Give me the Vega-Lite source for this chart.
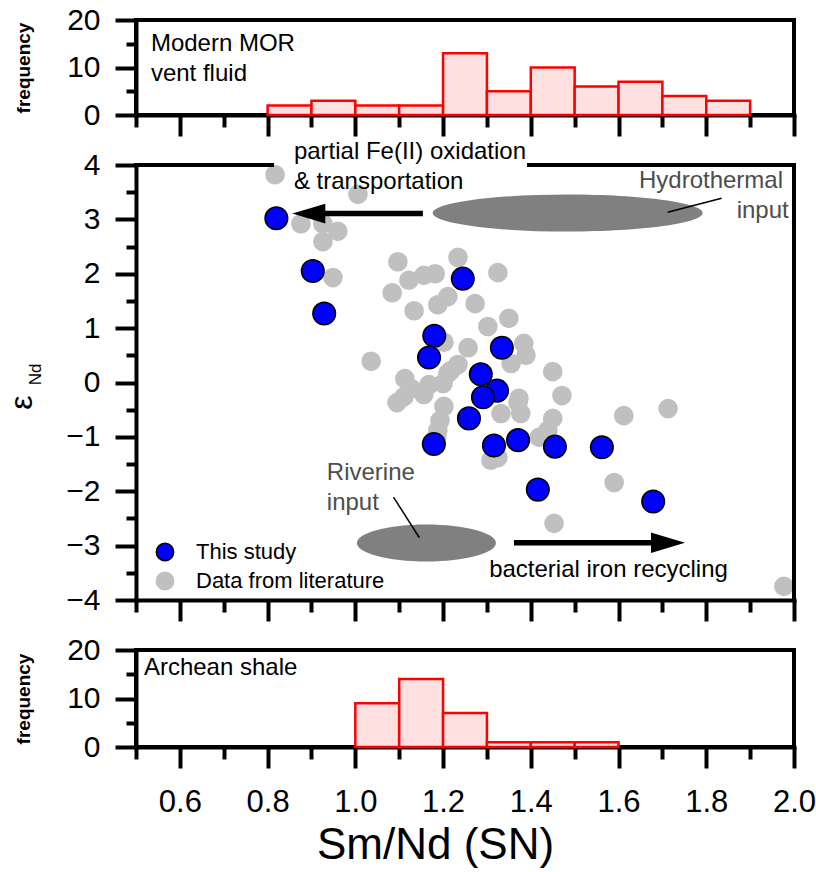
{
  "$schema": "https://vega.github.io/schema/vega-lite/v6.json",
  "autosize": {"type": "pad"},
  "padding": {"left": 5, "top": 3, "right": 5, "bottom": 0},
  "background": "white",
  "spacing": 50,
  "bounds": "flush",
  "resolve": {
    "scale": {"fill": "independent", "stroke": "independent"},
    "legend": {"fill": "independent", "stroke": "independent"}
  },
  "datasets": {
    "mor": [
      {"lo": 0.8, "hi": 0.9, "n": 2}, {"lo": 0.9, "hi": 1.0, "n": 3}, {"lo": 1.0, "hi": 1.1, "n": 2},
      {"lo": 1.1, "hi": 1.2, "n": 2}, {"lo": 1.2, "hi": 1.3, "n": 13}, {"lo": 1.3, "hi": 1.4, "n": 5},
      {"lo": 1.4, "hi": 1.5, "n": 10}, {"lo": 1.5, "hi": 1.6, "n": 6}, {"lo": 1.6, "hi": 1.7, "n": 7},
      {"lo": 1.7, "hi": 1.8, "n": 4}, {"lo": 1.8, "hi": 1.9, "n": 3}
    ],
    "shale": [
      {"lo": 1.0, "hi": 1.1, "n": 9}, {"lo": 1.1, "hi": 1.2, "n": 14}, {"lo": 1.2, "hi": 1.3, "n": 7},
      {"lo": 1.3, "hi": 1.4, "n": 1}, {"lo": 1.4, "hi": 1.5, "n": 1}, {"lo": 1.5, "hi": 1.6, "n": 1}
    ],
    "pts": [
      {"x": 0.817, "y": 3.82, "src": "Data from literature"},
      {"x": 1.006, "y": 3.46, "src": "Data from literature"},
      {"x": 0.876, "y": 2.92, "src": "Data from literature"},
      {"x": 0.926, "y": 2.92, "src": "Data from literature"},
      {"x": 0.960, "y": 2.78, "src": "Data from literature"},
      {"x": 0.926, "y": 2.59, "src": "Data from literature"},
      {"x": 0.949, "y": 1.93, "src": "Data from literature"},
      {"x": 1.097, "y": 2.22, "src": "Data from literature"},
      {"x": 1.084, "y": 1.65, "src": "Data from literature"},
      {"x": 1.122, "y": 1.88, "src": "Data from literature"},
      {"x": 1.156, "y": 1.97, "src": "Data from literature"},
      {"x": 1.182, "y": 2.00, "src": "Data from literature"},
      {"x": 1.234, "y": 2.30, "src": "Data from literature"},
      {"x": 1.325, "y": 2.02, "src": "Data from literature"},
      {"x": 1.211, "y": 1.58, "src": "Data from literature"},
      {"x": 1.188, "y": 1.43, "src": "Data from literature"},
      {"x": 1.134, "y": 1.32, "src": "Data from literature"},
      {"x": 1.273, "y": 1.45, "src": "Data from literature"},
      {"x": 1.302, "y": 1.03, "src": "Data from literature"},
      {"x": 1.350, "y": 1.18, "src": "Data from literature"},
      {"x": 1.257, "y": 0.64, "src": "Data from literature"},
      {"x": 1.202, "y": 0.74, "src": "Data from literature"},
      {"x": 1.036, "y": 0.39, "src": "Data from literature"},
      {"x": 1.113, "y": 0.07, "src": "Data from literature"},
      {"x": 1.127, "y": -0.11, "src": "Data from literature"},
      {"x": 1.211, "y": 0.17, "src": "Data from literature"},
      {"x": 1.234, "y": 0.33, "src": "Data from literature"},
      {"x": 1.095, "y": -0.37, "src": "Data from literature"},
      {"x": 1.156, "y": -0.22, "src": "Data from literature"},
      {"x": 1.200, "y": -0.02, "src": "Data from literature"},
      {"x": 1.168, "y": -0.04, "src": "Data from literature"},
      {"x": 1.218, "y": 0.22, "src": "Data from literature"},
      {"x": 1.202, "y": -0.44, "src": "Data from literature"},
      {"x": 1.193, "y": -0.70, "src": "Data from literature"},
      {"x": 1.188, "y": -0.88, "src": "Data from literature"},
      {"x": 1.186, "y": -0.99, "src": "Data from literature"},
      {"x": 1.111, "y": -0.26, "src": "Data from literature"},
      {"x": 1.332, "y": -0.57, "src": "Data from literature"},
      {"x": 1.377, "y": -0.57, "src": "Data from literature"},
      {"x": 1.371, "y": -0.37, "src": "Data from literature"},
      {"x": 1.355, "y": 0.35, "src": "Data from literature"},
      {"x": 1.384, "y": 0.72, "src": "Data from literature"},
      {"x": 1.389, "y": 0.50, "src": "Data from literature"},
      {"x": 1.450, "y": 0.20, "src": "Data from literature"},
      {"x": 1.471, "y": -0.24, "src": "Data from literature"},
      {"x": 1.373, "y": -0.29, "src": "Data from literature"},
      {"x": 1.450, "y": -0.66, "src": "Data from literature"},
      {"x": 1.439, "y": -0.88, "src": "Data from literature"},
      {"x": 1.325, "y": -1.38, "src": "Data from literature"},
      {"x": 1.309, "y": -1.43, "src": "Data from literature"},
      {"x": 1.419, "y": -1.01, "src": "Data from literature"},
      {"x": 1.612, "y": -0.61, "src": "Data from literature"},
      {"x": 1.713, "y": -0.48, "src": "Data from literature"},
      {"x": 1.590, "y": -1.84, "src": "Data from literature"},
      {"x": 1.453, "y": -2.59, "src": "Data from literature"},
      {"x": 1.977, "y": -3.75, "src": "Data from literature"},
      {"x": 0.820, "y": 3.02, "src": "This study"},
      {"x": 0.903, "y": 2.05, "src": "This study"},
      {"x": 0.929, "y": 1.27, "src": "This study"},
      {"x": 1.245, "y": 1.91, "src": "This study"},
      {"x": 1.180, "y": 0.86, "src": "This study"},
      {"x": 1.168, "y": 0.46, "src": "This study"},
      {"x": 1.334, "y": 0.64, "src": "This study"},
      {"x": 1.286, "y": 0.15, "src": "This study"},
      {"x": 1.323, "y": -0.15, "src": "This study"},
      {"x": 1.291, "y": -0.27, "src": "This study"},
      {"x": 1.259, "y": -0.66, "src": "This study"},
      {"x": 1.179, "y": -1.13, "src": "This study"},
      {"x": 1.316, "y": -1.16, "src": "This study"},
      {"x": 1.371, "y": -1.06, "src": "This study"},
      {"x": 1.455, "y": -1.18, "src": "This study"},
      {"x": 1.562, "y": -1.19, "src": "This study"},
      {"x": 1.416, "y": -1.97, "src": "This study"},
      {"x": 1.679, "y": -2.19, "src": "This study"}
    ]
  },
  "vconcat": [
    {
      "width": 658,
      "height": 95,
      "view": {"stroke": "black", "strokeWidth": 4},
      "layer": [
        {
          "data": {"name": "mor"},
          "mark": {"type": "rect", "fill": "#ffe0e0", "stroke": "#ff0000", "strokeWidth": 2.5},
          "encoding": {
            "x": {"field": "lo", "type": "quantitative", "scale": {"domain": [0.5, 2.0], "nice": false, "zero": false},
              "axis": {"orient": "bottom", "values": [0.6, 0.8, 1.0, 1.2, 1.4, 1.6, 1.8, 2.0], "labels": false, "tickSize": 21, "title": null}},
            "x2": {"field": "hi"},
            "y": {"field": "n", "type": "quantitative", "scale": {"domain": [0, 20], "nice": false, "zero": true},
              "axis": {"orient": "left", "values": [0, 10, 20], "tickSize": 21, "labelFontSize": 30, "labelPadding": 15,
                "title": "frequency", "titleFontSize": 19, "titleFontWeight": "bold", "titleX": -113, "titleY": 47.5,
                "titleAngle": 270, "titleAlign": "center", "titleBaseline": "middle"}},
            "y2": {"datum": 0}
          }
        },
        {
          "data": {"name": "mor"},
          "mark": {"type": "point", "opacity": 0},
          "encoding": {
            "x": {"field": "lo", "type": "quantitative", "scale": {"domain": [0.5, 2.0], "nice": false, "zero": false},
              "axis": {"orient": "bottom", "values": [0.5, 0.7, 0.9, 1.1, 1.3, 1.5, 1.7, 1.9], "labels": false, "domain": false, "tickSize": 12, "title": null}},
            "y": {"field": "n", "type": "quantitative", "scale": {"domain": [0, 20], "nice": false, "zero": true},
              "axis": {"orient": "left", "values": [5, 15], "labels": false, "domain": false, "tickSize": 10, "title": null}}
          }
        },
        {
          "data": {"values": [{"x": 0.534, "y": 14.9, "t": "Modern MOR"}, {"x": 0.534, "y": 8.6, "t": "vent fluid"}]},
          "mark": {"type": "text", "align": "left", "baseline": "middle", "fontSize": 24, "color": "black"},
          "encoding": {
            "x": {"field": "x", "type": "quantitative", "scale": {"domain": [0.5, 2.0], "nice": false, "zero": false}, "axis": null},
            "y": {"field": "y", "type": "quantitative", "scale": {"domain": [0, 20], "nice": false, "zero": true}, "axis": null},
            "text": {"field": "t"}
          }
        }
      ],
      "resolve": {"axis": {"x": "independent", "y": "independent"}}
    },
    {
      "width": 658,
      "height": 435,
      "view": {"stroke": null},
      "layer": [
        {
          "data": {"values": [{"x": 1.484, "y": 3.116}]},
          "mark": {"type": "point", "filled": true, "opacity": 1, "color": "#808080", "strokeWidth": 0, "size": 72900,
            "shape": "M -1 0 C -1 -0.0757 -0.5523 -0.137 0 -0.137 C 0.5523 -0.137 1 -0.0757 1 0 C 1 0.0757 0.5523 0.137 0 0.137 C -0.5523 0.137 -1 0.0757 -1 0 Z"},
          "encoding": {
            "x": {"field": "x", "type": "quantitative", "scale": {"domain": [0.5, 2.0], "nice": false, "zero": false},
              "axis": {"orient": "bottom", "values": [0.6, 0.8, 1.0, 1.2, 1.4, 1.6, 1.8, 2.0], "labels": false, "tickSize": 21, "title": null}},
            "y": {"field": "y", "type": "quantitative", "scale": {"domain": [-4, 4], "nice": false, "zero": false},
              "axis": {"orient": "left", "values": [-4, -3, -2, -1, 0, 1, 2, 3, 4], "tickSize": 21, "labelFontSize": 30, "labelPadding": 15,
                "title": "ε", "titleFontSize": 32, "titleFontWeight": "normal", "titleX": -115, "titleY": 237,
                "titleAngle": 270, "titleAlign": "center", "titleBaseline": "middle"}}
          }
        },
        {
          "data": {"values": [{"x": 1.162, "y": -2.95}]},
          "mark": {"type": "point", "filled": true, "opacity": 1, "color": "#808080", "strokeWidth": 0, "size": 19321,
            "shape": "M -1 0 C -1 -0.1469 -0.5523 -0.266 0 -0.266 C 0.5523 -0.266 1 -0.1469 1 0 C 1 0.1469 0.5523 0.266 0 0.266 C -0.5523 0.266 -1 0.1469 -1 0 Z"},
          "encoding": {
            "x": {"field": "x", "type": "quantitative", "scale": {"domain": [0.5, 2.0], "nice": false, "zero": false},
              "axis": {"orient": "bottom", "values": [0.5, 0.7, 0.9, 1.1, 1.3, 1.5, 1.7, 1.9], "labels": false, "domain": false, "tickSize": 12, "title": null}},
            "y": {"field": "y", "type": "quantitative", "scale": {"domain": [-4, 4], "nice": false, "zero": false},
              "axis": {"orient": "left", "values": [-3.5, -2.5, -1.5, -0.5, 0.5, 1.5, 2.5, 3.5], "labels": false, "domain": false, "tickSize": 10, "title": null}}
          }
        },
        {
          "data": {"name": "pts"},
          "transform": [{"filter": "datum.src === 'Data from literature'"}],
          "mark": {"type": "point", "filled": true, "opacity": 1, "strokeWidth": 1.5, "size": 330},
          "encoding": {
            "x": {"field": "x", "type": "quantitative", "scale": {"domain": [0.5, 2.0], "nice": false, "zero": false}, "axis": null},
            "y": {"field": "y", "type": "quantitative", "scale": {"domain": [-4, 4], "nice": false, "zero": false}, "axis": null},
            "fill": {"field": "src", "type": "nominal",
              "scale": {"domain": ["This study", "Data from literature"], "range": ["#0000ff", "#c0c0c0"]},
              "legend": {"title": null, "orient": "none", "legendX": 18, "legendY": 376, "padding": 0, "labelFontSize": 22, "labelLimit": 400,
                "labelColor": "black", "symbolSize": 300, "symbolStrokeWidth": 1.5, "labelOffset": 20, "rowPadding": 5}},
            "stroke": {"field": "src", "type": "nominal",
              "scale": {"domain": ["This study", "Data from literature"], "range": ["#000000", "#c0c0c0"]},
              "legend": {"title": null, "orient": "none", "legendX": 18, "legendY": 376, "padding": 0, "labelFontSize": 22, "labelLimit": 400,
                "labelColor": "black", "symbolSize": 300, "symbolStrokeWidth": 1.5, "labelOffset": 20, "rowPadding": 5}}
          }
        },
        {
          "data": {"name": "pts"},
          "transform": [{"filter": "datum.src === 'This study'"}],
          "mark": {"type": "point", "filled": true, "opacity": 1, "strokeWidth": 1.5, "size": 510},
          "encoding": {
            "x": {"field": "x", "type": "quantitative", "scale": {"domain": [0.5, 2.0], "nice": false, "zero": false}, "axis": null},
            "y": {"field": "y", "type": "quantitative", "scale": {"domain": [-4, 4], "nice": false, "zero": false}, "axis": null},
            "fill": {"field": "src", "type": "nominal",
              "scale": {"domain": ["This study", "Data from literature"], "range": ["#0000ff", "#c0c0c0"]},
              "legend": {"title": null, "orient": "none", "legendX": 18, "legendY": 376, "padding": 0, "labelFontSize": 22, "labelLimit": 400,
                "labelColor": "black", "symbolSize": 300, "symbolStrokeWidth": 1.5, "labelOffset": 20, "rowPadding": 5}},
            "stroke": {"field": "src", "type": "nominal",
              "scale": {"domain": ["This study", "Data from literature"], "range": ["#000000", "#c0c0c0"]},
              "legend": {"title": null, "orient": "none", "legendX": 18, "legendY": 376, "padding": 0, "labelFontSize": 22, "labelLimit": 400,
                "labelColor": "black", "symbolSize": 300, "symbolStrokeWidth": 1.5, "labelOffset": 20, "rowPadding": 5}}
          }
        },
        {
          "data": {"values": [{"x": 1.154, "x2": 0.92, "y": 3.107}, {"x": 1.3616, "x2": 1.68, "y": -2.947}]},
          "mark": {"type": "rule", "color": "black", "strokeWidth": 5.5},
          "encoding": {
            "x": {"field": "x", "type": "quantitative", "scale": {"domain": [0.5, 2.0], "nice": false, "zero": false}, "axis": null},
            "x2": {"field": "x2"},
            "y": {"field": "y", "type": "quantitative", "scale": {"domain": [-4, 4], "nice": false, "zero": false}, "axis": null}
          }
        },
        {
          "data": {"values": [{"x": 0.894, "y": 3.107}]},
          "mark": {"type": "point", "filled": true, "opacity": 1, "color": "black", "strokeWidth": 0, "size": 1089,
            "shape": "M -1 0 L 1 -0.6 L 1 0.6 Z"},
          "encoding": {
            "x": {"field": "x", "type": "quantitative", "scale": {"domain": [0.5, 2.0], "nice": false, "zero": false}, "axis": null},
            "y": {"field": "y", "type": "quantitative", "scale": {"domain": [-4, 4], "nice": false, "zero": false}, "axis": null}
          }
        },
        {
          "data": {"values": [{"x": 1.7127, "y": -2.947}]},
          "mark": {"type": "point", "filled": true, "opacity": 1, "color": "black", "strokeWidth": 0, "size": 1156,
            "shape": "M 1 0 L -1 -0.6 L -1 0.6 Z"},
          "encoding": {
            "x": {"field": "x", "type": "quantitative", "scale": {"domain": [0.5, 2.0], "nice": false, "zero": false}, "axis": null},
            "y": {"field": "y", "type": "quantitative", "scale": {"domain": [-4, 4], "nice": false, "zero": false}, "axis": null}
          }
        },
        {
          "data": {"values": [{"x": 1.712, "y": 3.13, "x2": 1.835, "y2": 3.39}, {"x": 1.087, "y": -2.108, "x2": 1.146, "y2": -2.855}]},
          "mark": {"type": "rule", "color": "black", "strokeWidth": 1.5},
          "encoding": {
            "x": {"field": "x", "type": "quantitative", "scale": {"domain": [0.5, 2.0], "nice": false, "zero": false}, "axis": null},
            "x2": {"field": "x2"},
            "y": {"field": "y", "type": "quantitative", "scale": {"domain": [-4, 4], "nice": false, "zero": false}, "axis": null},
            "y2": {"field": "y2"}
          }
        },
        {
          "data": {"values": [{"x": 0.5, "x2": 0.81, "y": 4}, {"x": 1.396, "x2": 2.0, "y": 4}]},
          "mark": {"type": "rule", "color": "black", "strokeWidth": 4, "strokeCap": "square"},
          "encoding": {
            "x": {"field": "x", "type": "quantitative", "scale": {"domain": [0.5, 2.0], "nice": false, "zero": false}, "axis": null},
            "x2": {"field": "x2"},
            "y": {"field": "y", "type": "quantitative", "scale": {"domain": [-4, 4], "nice": false, "zero": false}, "axis": null}
          }
        },
        {
          "data": {"values": [{"x": 2.0, "y": -4, "y2": 4}]},
          "mark": {"type": "rule", "color": "black", "strokeWidth": 4, "strokeCap": "square"},
          "encoding": {
            "x": {"field": "x", "type": "quantitative", "scale": {"domain": [0.5, 2.0], "nice": false, "zero": false}, "axis": null},
            "y": {"field": "y", "type": "quantitative", "scale": {"domain": [-4, 4], "nice": false, "zero": false}, "axis": null},
            "y2": {"field": "y2"}
          }
        },
        {
          "data": {"values": [
            {"x": 0.860, "y": 4.246, "t": "partial Fe(II) oxidation"},
            {"x": 0.860, "y": 3.68, "t": "& transportation"},
            {"x": 1.305, "y": -3.456, "t": "bacterial iron recycling"}
          ]},
          "mark": {"type": "text", "align": "left", "baseline": "middle", "fontSize": 24, "color": "black"},
          "encoding": {
            "x": {"field": "x", "type": "quantitative", "scale": {"domain": [0.5, 2.0], "nice": false, "zero": false}, "axis": null},
            "y": {"field": "y", "type": "quantitative", "scale": {"domain": [-4, 4], "nice": false, "zero": false}, "axis": null},
            "text": {"field": "t"}
          }
        },
        {
          "data": {"values": [{"x": 0.935, "y": -1.67, "t": "Riverine"}, {"x": 0.935, "y": -2.22, "t": "input"}]},
          "mark": {"type": "text", "align": "left", "baseline": "middle", "fontSize": 24, "color": "#4d4d4d"},
          "encoding": {
            "x": {"field": "x", "type": "quantitative", "scale": {"domain": [0.5, 2.0], "nice": false, "zero": false}, "axis": null},
            "y": {"field": "y", "type": "quantitative", "scale": {"domain": [-4, 4], "nice": false, "zero": false}, "axis": null},
            "text": {"field": "t"}
          }
        },
        {
          "data": {"values": [{"x": 1.975, "y": 3.71, "t": "Hydrothermal"}, {"x": 1.988, "y": 3.16, "t": "input"}]},
          "mark": {"type": "text", "align": "right", "baseline": "middle", "fontSize": 24, "color": "#4d4d4d"},
          "encoding": {
            "x": {"field": "x", "type": "quantitative", "scale": {"domain": [0.5, 2.0], "nice": false, "zero": false}, "axis": null},
            "y": {"field": "y", "type": "quantitative", "scale": {"domain": [-4, 4], "nice": false, "zero": false}, "axis": null},
            "text": {"field": "t"}
          }
        },
        {
          "data": {"values": [{"x": 0.272, "y": 0.147, "t": "Nd"}]},
          "mark": {"type": "text", "align": "center", "baseline": "middle", "fontSize": 17, "angle": 270, "color": "black"},
          "encoding": {
            "x": {"field": "x", "type": "quantitative", "scale": {"domain": [0.5, 2.0], "nice": false, "zero": false}, "axis": null},
            "y": {"field": "y", "type": "quantitative", "scale": {"domain": [-4, 4], "nice": false, "zero": false}, "axis": null},
            "text": {"field": "t"}
          }
        }
      ],
      "resolve": {"axis": {"x": "independent", "y": "independent"}}
    },
    {
      "width": 658,
      "height": 97,
      "view": {"stroke": "black", "strokeWidth": 4},
      "layer": [
        {
          "data": {"name": "shale"},
          "mark": {"type": "rect", "fill": "#ffe0e0", "stroke": "#ff0000", "strokeWidth": 2.5},
          "encoding": {
            "x": {"field": "lo", "type": "quantitative", "scale": {"domain": [0.5, 2.0], "nice": false, "zero": false},
              "axis": {"orient": "bottom", "values": [0.6, 0.8, 1.0, 1.2, 1.4, 1.6, 1.8, 2.0], "format": ".1f", "tickSize": 21,
                "labelFontSize": 31, "labelPadding": 19, "title": "Sm/Nd (SN)", "titleFontSize": 44, "titleFontWeight": "normal",
                "titlePadding": 6, "titleX": 299, "titleAlign": "center"}},
            "x2": {"field": "hi"},
            "y": {"field": "n", "type": "quantitative", "scale": {"domain": [0, 20], "nice": false, "zero": true},
              "axis": {"orient": "left", "values": [0, 10, 20], "tickSize": 21, "labelFontSize": 30, "labelPadding": 15,
                "title": "frequency", "titleFontSize": 19, "titleFontWeight": "bold", "titleX": -113, "titleY": 48.5,
                "titleAngle": 270, "titleAlign": "center", "titleBaseline": "middle"}},
            "y2": {"datum": 0}
          }
        },
        {
          "data": {"name": "shale"},
          "mark": {"type": "point", "opacity": 0},
          "encoding": {
            "x": {"field": "lo", "type": "quantitative", "scale": {"domain": [0.5, 2.0], "nice": false, "zero": false},
              "axis": {"orient": "bottom", "values": [0.5, 0.7, 0.9, 1.1, 1.3, 1.5, 1.7, 1.9], "labels": false, "domain": false, "tickSize": 12, "title": null}},
            "y": {"field": "n", "type": "quantitative", "scale": {"domain": [0, 20], "nice": false, "zero": true},
              "axis": {"orient": "left", "values": [5, 15], "labels": false, "domain": false, "tickSize": 10, "title": null}}
          }
        },
        {
          "data": {"values": [{"x": 0.518, "y": 16.3, "t": "Archean shale"}]},
          "mark": {"type": "text", "align": "left", "baseline": "middle", "fontSize": 24, "color": "black"},
          "encoding": {
            "x": {"field": "x", "type": "quantitative", "scale": {"domain": [0.5, 2.0], "nice": false, "zero": false}, "axis": null},
            "y": {"field": "y", "type": "quantitative", "scale": {"domain": [0, 20], "nice": false, "zero": true}, "axis": null},
            "text": {"field": "t"}
          }
        }
      ],
      "resolve": {"axis": {"x": "independent", "y": "independent"}}
    }
  ],
  "config": {
    "font": "Liberation Sans",
    "view": {"stroke": "black", "strokeWidth": 4},
    "axis": {
      "grid": false, "domainColor": "black", "domainWidth": 4, "domainCap": "square", "tickColor": "black", "tickWidth": 4,
      "labelColor": "black", "titleColor": "black", "labelFont": "Liberation Sans", "titleFont": "Liberation Sans",
      "labelFlush": false, "labelOverlap": false
    },
    "text": {"font": "Liberation Sans"},
    "legend": {"labelFont": "Liberation Sans", "labelLimit": 400}
  }
}
